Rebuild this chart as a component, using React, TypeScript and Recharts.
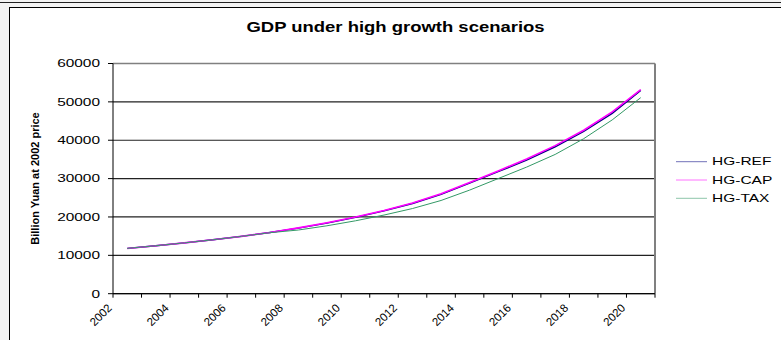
import React from "react";
import {
  LineChart,
  Line,
  XAxis,
  YAxis,
  CartesianGrid,
  ReferenceLine,
} from "recharts";

const years = [
  2002, 2003, 2004, 2005, 2006, 2007, 2008, 2009, 2010, 2011, 2012, 2013, 2014,
  2015, 2016, 2017, 2018, 2019, 2020,
];
const hgRef = [
  11800, 12500, 13250, 14050, 14950, 15950, 17100, 18400, 19900, 21600, 23500,
  25900, 28800, 31800, 34800, 38300, 42300, 47000, 53000,
];
const hgCap = [
  11800, 12500, 13250, 14050, 14950, 15950, 17150, 18500, 20000, 21700, 23650,
  26050, 29000, 32000, 35100, 38600, 42600, 47400, 53200,
];
const hgTax = [
  11800, 12500, 13250, 14050, 14950, 15900, 16600, 17700, 19000, 20500, 22200,
  24300, 27000, 30000, 33000, 36300, 40400, 45300, 51100,
];
const yTicks = [0, 10000, 20000, 30000, 40000, 50000, 60000];
const xTickLabels = ["2002", "2004", "2006", "2008", "2010", "2012", "2014", "2016", "2018", "2020"];

const series = [
  { key: "ref", name: "HG-REF", color: "#000080", width: 1.4 },
  { key: "cap", name: "HG-CAP", color: "#ff00ff", width: 1.6 },
  { key: "tax", name: "HG-TAX", color: "#339966", width: 1 },
];

const data = years.map((y, i) => ({
  year: y,
  ref: hgRef[i],
  cap: hgCap[i],
  tax: hgTax[i],
}));

// category boundaries, Excel style ticks between years
const boundaries = [years[0] - 0.5, ...years.map((y) => y + 0.5)];

const FONT = "'Liberation Sans', Arial, sans-serif";

function XTick(props: any) {
  const { x, y, payload } = props;
  const label = String(payload.value + 0.5);
  if (!xTickLabels.includes(label)) return null;
  return (
    <text
      transform={`translate(${x - 0.5},${y + 9}) rotate(-45)`}
      textAnchor="end"
      fontFamily={FONT}
      fontSize={11.5}
      fill="#000"
    >
      {label}
    </text>
  );
}

function YTick(props: any) {
  const { x, y, payload } = props;
  return (
    <text
      transform={`translate(${x},${y + 3.8}) scale(1.4,1)`}
      textAnchor="end"
      fontFamily={FONT}
      fontSize={11}
      fill="#000"
    >
      {payload.value}
    </text>
  );
}

export default function App() {
  return (
    <div
      style={{
        position: "absolute",
        left: 0,
        top: 0,
        width: 781,
        height: 340,
        overflow: "hidden",
        background: "#f3f3f3",
      }}
    >
      <div
        style={{
          position: "absolute",
          left: 0,
          top: 1.5,
          width: 781,
          height: 1.5,
          background: "#222",
        }}
      />
      <div
        style={{
          position: "absolute",
          left: 9,
          top: 6.5,
          width: 772,
          height: 334,
          background: "#fff",
          borderTop: "1px solid #000",
          borderLeft: "1px solid #000",
        }}
      />
      <div style={{ position: "absolute", left: 0, top: 0 }}>
        <LineChart
          width={781}
          height={340}
          data={data}
          margin={{ top: 63.5, right: 126, bottom: 16.3, left: 53 }}
        >
          <CartesianGrid vertical={false} horizontal stroke="#222" strokeWidth={1.2} />
          <XAxis
            dataKey="year"
            type="number"
            domain={[boundaries[0], boundaries[boundaries.length - 1]]}
            ticks={boundaries}
            interval={0}
            height={30}
            tickSize={4}
            axisLine={{ stroke: "#000" }}
            tickLine={{ stroke: "#000" }}
            tick={(p: any) => <XTick {...p} />}
          />
          <YAxis
            type="number"
            domain={[0, 60000]}
            ticks={yTicks}
            interval={0}
            width={60}
            tickSize={5}
            tickMargin={8}
            axisLine={{ stroke: "#000" }}
            tickLine={{ stroke: "#000" }}
            tick={(p: any) => <YTick {...p} />}
          />
          <ReferenceLine y={60000} stroke="#808080" strokeWidth={1.5} />
          <ReferenceLine x={boundaries[boundaries.length - 1]} stroke="#808080" strokeWidth={2} />
          {series.map((s) => (
            <Line
              key={s.key}
              type="linear"
              dataKey={s.key}
              name={s.name}
              stroke={s.color}
              strokeWidth={s.width}
              dot={false}
              isAnimationActive={false}
            />
          ))}
        </LineChart>
      </div>
      <svg
        width={781}
        height={340}
        style={{ position: "absolute", left: 0, top: 0, pointerEvents: "none" }}
      >
        <text
          transform="translate(395.5,31.7) scale(1.32,1)"
          textAnchor="middle"
          fontFamily={FONT}
          fontWeight="bold"
          fontSize={14}
          fill="#000"
        >
          GDP under high growth scenarios
        </text>
        <text
          transform="translate(39,178.5) rotate(-90)"
          textAnchor="middle"
          fontFamily={FONT}
          fontWeight="bold"
          fontSize={11}
          fill="#000"
        >
          Billion Yuan at 2002 price
        </text>
        {series.map((s, i) => (
          <g key={s.key}>
            <line
              x1={676}
              x2={707}
              y1={161.7 + i * 18.3}
              y2={161.7 + i * 18.3}
              stroke={s.color}
              strokeWidth={1}
              opacity={0.55}
            />
            <text
              transform={`translate(712,${165.3 + i * 18.3}) scale(1.55,1)`}
              fontFamily={FONT}
              fontSize={10}
              fill="#000"
            >
              {s.name}
            </text>
          </g>
        ))}
      </svg>
    </div>
  );
}
